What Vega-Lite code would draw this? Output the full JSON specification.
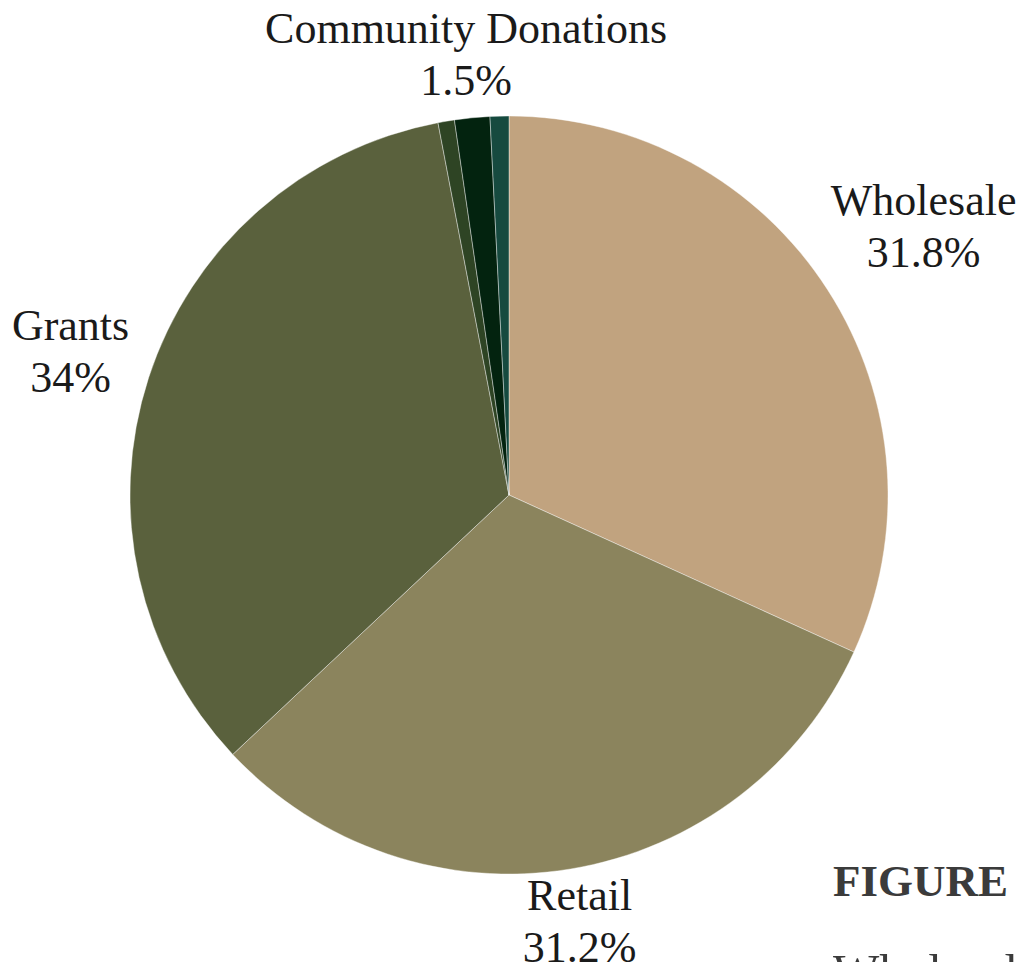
{
  "$schema": "https://vega.github.io/schema/vega-lite/v6.json",
  "width": 1018,
  "height": 990,
  "autosize": "none",
  "padding": 0,
  "background": "white",
  "config": {"view": {"stroke": null}},
  "title": {
    "text": "FIGURE",
    "subtitle": "Wholesale",
    "orient": "bottom",
    "anchor": "start",
    "dx": 833,
    "offset": -130,
    "font": "Liberation Serif",
    "fontSize": 45,
    "fontWeight": "bold",
    "color": "#3b3b3b",
    "subtitleFont": "Liberation Serif",
    "subtitleFontSize": 49,
    "subtitleColor": "#3b3b3b",
    "subtitlePadding": 44
  },
  "data": {
    "values": [
      {"name": "Wholesale", "value": 31.8, "order": 1, "label": "Wholesale\n31.8%"},
      {"name": "Retail", "value": 31.2, "order": 2, "label": "Retail\n31.2%"},
      {"name": "Grants", "value": 34.0, "order": 3, "label": "Grants\n34%"},
      {"name": "Other", "value": 0.7, "order": 4, "label": ""},
      {"name": "Community Donations", "value": 1.5, "order": 5, "label": "Community Donations\n1.5%"},
      {"name": "Interest", "value": 0.8, "order": 6, "label": ""}
    ]
  },
  "encoding": {
    "theta": {"field": "value", "type": "quantitative", "stack": true},
    "order": {"field": "order", "type": "quantitative"}
  },
  "layer": [
    {
      "mark": {"type": "arc", "outerRadius": 379, "stroke": "#ffffff", "strokeWidth": 0.4},
      "encoding": {
        "color": {
          "field": "name",
          "type": "nominal",
          "scale": {
            "domain": ["Wholesale", "Retail", "Grants", "Other", "Community Donations", "Interest"],
            "range": ["#C1A37F", "#8B845D", "#5A613D", "#2E4424", "#03230F", "#164A3F"]
          },
          "legend": null
        }
      }
    },
    {
      "mark": {
        "type": "text",
        "font": "Liberation Serif",
        "fontSize": 44,
        "lineHeight": 52,
        "lineBreak": "\n",
        "align": "center",
        "baseline": "middle",
        "dy": -26,
        "color": "#1a1a1a",
        "radius": {"expr": "datum.name === 'Wholesale' ? 493 : datum.name === 'Retail' ? 434 : datum.name === 'Grants' ? 461 : 441"}
      },
      "encoding": {
        "text": {"field": "label", "type": "nominal"}
      }
    }
  ]
}
